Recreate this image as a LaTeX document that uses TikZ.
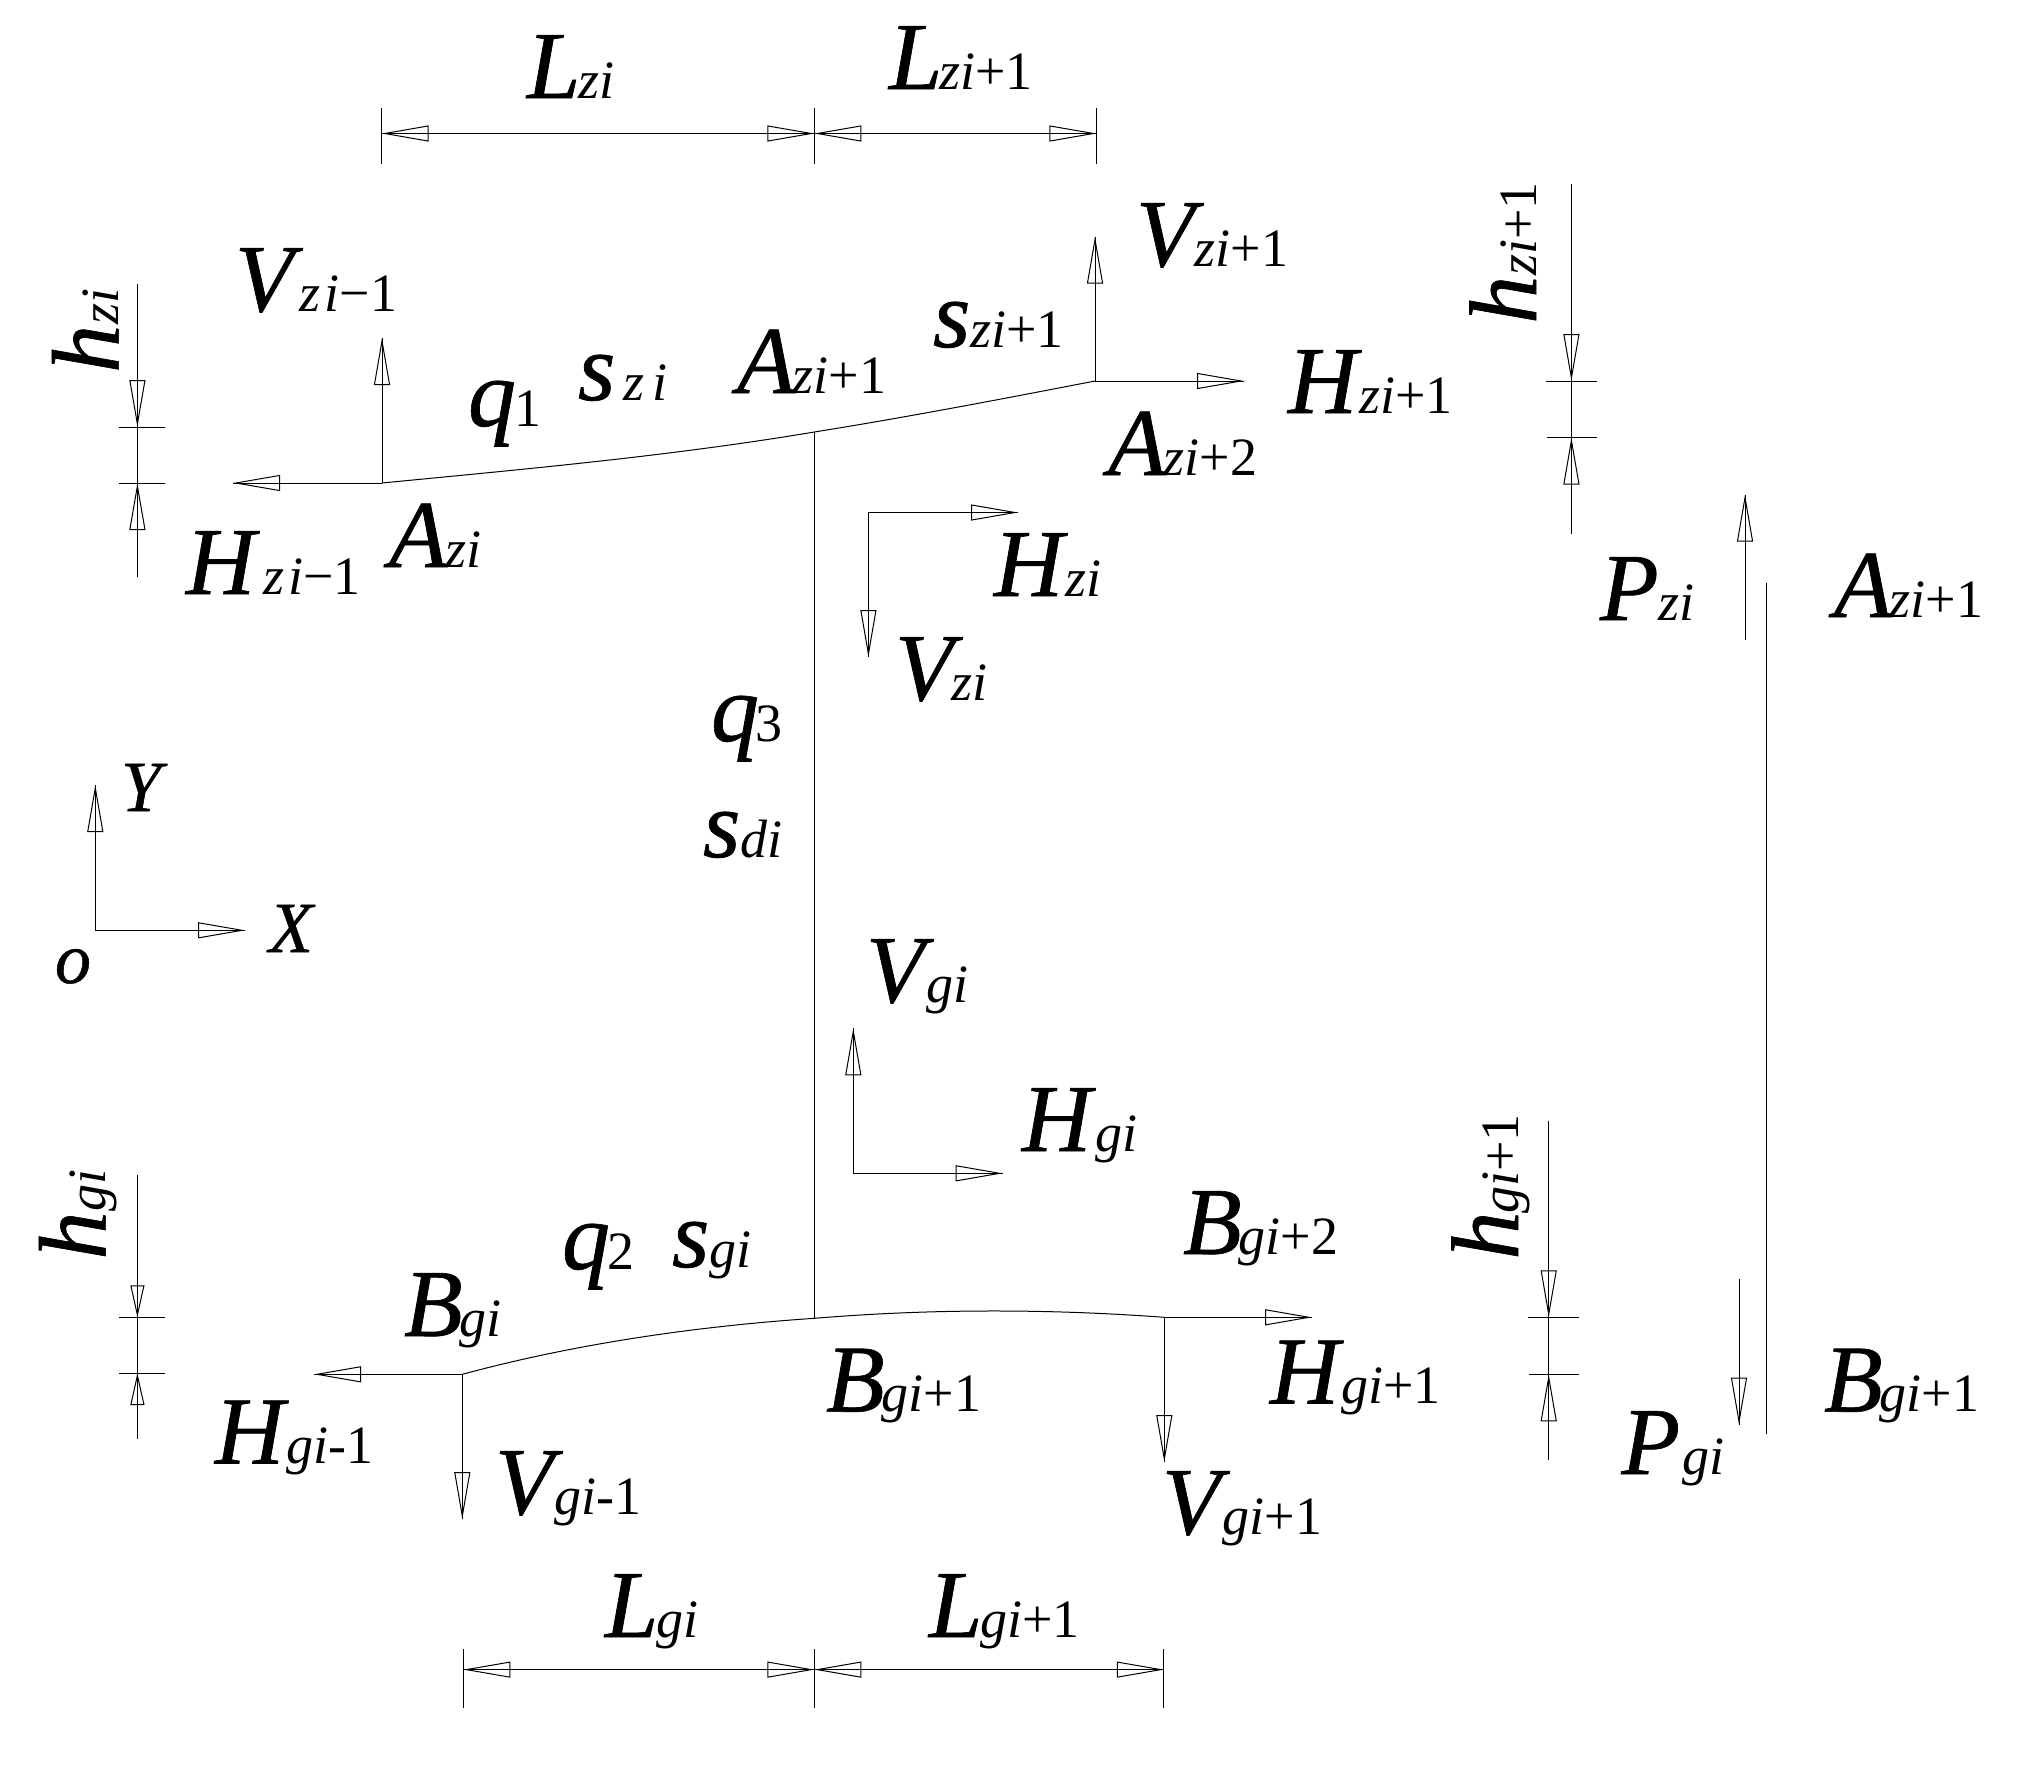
\documentclass[tikz,border=0pt]{standalone}
\usepackage{fontspec}
\usetikzlibrary{arrows.meta}
\setmainfont{Liberation Serif}
\newfontfamily\capfont[FakeBold=0.7]{Liberation Serif}
\newcommand{\lab}[4][0pt]{{\capfont\fontsize{48}{48}\selectfont\itshape #2}\kern#1\fontsize{27}{27}\selectfont\itshape #3\upshape #4}
\newcommand{\axlab}[1]{{\capfont\fontsize{36}{36}\selectfont\itshape #1}}
\tikzset{
  every node/.append style={inner sep=0pt,outer sep=0pt,anchor=base west},
  every path/.append style={line width=0.5pt},
  uplab/.style={rotate=90},
  force/.style={-{Triangle[open,length=23.5pt,width=8pt]},preaction={draw,-}},
  forceshort/.style={-{Triangle[open,length=16pt,width=7pt]},preaction={draw,-}}
}
\begin{document}
\begin{tikzpicture}[x=0.5pt,y=-0.5pt]
  \useasboundingbox (0,0) rectangle (2032,1772);
  % top member
  \coordinate (Azi) at (382,483);
  \coordinate (Azj) at (814.3,432);
  \coordinate (Azk) at (1095,381);
  \coordinate (VzaEnd) at (382,338);
  \coordinate (HzaEnd) at (233,483);
  \coordinate (VzkEnd) at (1095,236.6);
  \coordinate (HzkEnd) at (1244,381);
  \draw (Azi) .. controls (526,469) and (671,456) .. (Azj)
              .. controls (908,417) and (1002,399) .. (Azk);
  \draw[force] (Azi) -- (VzaEnd);
  \draw[force] (Azi) -- (HzaEnd);
  \draw[force] (Azk) -- (VzkEnd);
  \draw[force] (Azk) -- (HzkEnd);
  % bottom member
  \coordinate (Bgi) at (462.3,1374.3);
  \coordinate (Bgj) at (814.3,1318.3);
  \coordinate (Bgk) at (1164.3,1317.3);
  \coordinate (VgaEnd) at (462.3,1519);
  \coordinate (HgaEnd) at (314,1374.3);
  \coordinate (VgkEnd) at (1164.3,1462);
  \coordinate (HgkEnd) at (1312,1317.3);
  \draw (Bgi) .. controls (578,1343) and (700,1326) .. (Bgj)
              .. controls (930,1308.7) and (1048,1308.7) .. (Bgk);
  \draw[force] (Bgi) -- (VgaEnd);
  \draw[force] (Bgi) -- (HgaEnd);
  \draw[force] (Bgk) -- (VgkEnd);
  \draw[force] (Bgk) -- (HgkEnd);
  \draw (Azj) -- (Bgj);
  % inner forces on the column
  \coordinate (Cz) at (868.4,512.5);
  \coordinate (CzH) at (1018,512.5);
  \coordinate (CzV) at (868.4,657);
  \coordinate (Cg) at (853.3,1173.3);
  \coordinate (CgH) at (1002.7,1173.3);
  \coordinate (CgV) at (853.3,1028.3);
  \draw[force] (Cz) -- (CzH);
  \draw[force] (Cz) -- (CzV);
  \draw[force] (Cg) -- (CgH);
  \draw[force] (Cg) -- (CgV);
  % axes
  \coordinate (O) at (95.3,930.3);
  \coordinate (OY) at (95.3,785);
  \coordinate (OX) at (245,930.3);
  \draw[force] (O) -- (OY);
  \draw[force] (O) -- (OX);
  % right column
  \coordinate (PzStart) at (1745,640);
  \coordinate (PzEnd) at (1745,494.6);
  \coordinate (PgStart) at (1739,1279);
  \coordinate (PgEnd) at (1739,1424.5);
  \coordinate (RcTop) at (1766,582.6);
  \coordinate (RcBot) at (1766,1434);
  \draw[force] (PzStart) -- (PzEnd);
  \draw[force] (PgStart) -- (PgEnd);
  \draw (RcTop) -- (RcBot);
  % top dimension
  \coordinate (TdA) at (381.7,133.5);
  \coordinate (TdB) at (814.3,133.5);
  \coordinate (TdC) at (1096.4,133.5);
  \draw[force] (TdB) -- (TdA);
  \draw[force] (TdA) -- (TdB);
  \draw[force] (TdC) -- (TdB);
  \draw[force] (TdB) -- (TdC);
  \draw (381.7,108) -- (381.7,163.5);
  \draw (814.3,108) -- (814.3,163.5);
  \draw (1096.4,108) -- (1096.4,163.5);
  % bottom dimension
  \coordinate (BdA) at (463.4,1669.6);
  \coordinate (BdB) at (814.3,1669.6);
  \coordinate (BdC) at (1163.8,1669.6);
  \draw[force] (BdB) -- (BdA);
  \draw[force] (BdA) -- (BdB);
  \draw[force] (BdC) -- (BdB);
  \draw[force] (BdB) -- (BdC);
  \draw (463.4,1649) -- (463.4,1708);
  \draw (814.3,1649) -- (814.3,1708);
  \draw (1163.8,1649) -- (1163.8,1708);
  % level marks
  \coordinate (HzTop) at (137.4,284);
  \coordinate (HzA) at (137.4,427);
  \coordinate (HzB) at (137.4,483);
  \coordinate (HzBot) at (137.4,577);
  \draw[force] (HzTop) -- (HzA);
  \draw[force] (HzBot) -- (HzB);
  \draw (HzA) -- (HzB);
  \draw (118.6,427) -- (165,427);
  \draw (119,483) -- (165,483);
  \coordinate (HyTop) at (1571.4,184);
  \coordinate (HyA) at (1571.4,381);
  \coordinate (HyB) at (1571.4,437.5);
  \coordinate (HyBot) at (1571.4,534);
  \draw[force] (HyTop) -- (HyA);
  \draw[force] (HyBot) -- (HyB);
  \draw (HyA) -- (HyB);
  \draw (1546,381) -- (1597,381);
  \draw (1547,437.5) -- (1597,437.5);
  \coordinate (HgTop) at (137.4,1175);
  \coordinate (HgA) at (137.4,1317.3);
  \coordinate (HgB) at (137.4,1373);
  \coordinate (HgBot) at (137.4,1438.6);
  \draw[forceshort] (HgTop) -- (HgA);
  \draw[forceshort] (HgBot) -- (HgB);
  \draw (HgA) -- (HgB);
  \draw (118.6,1317.3) -- (165,1317.3);
  \draw (119,1373) -- (165,1373);
  \coordinate (HhTop) at (1548.7,1120.6);
  \coordinate (HhA) at (1548.7,1317.3);
  \coordinate (HhB) at (1548.7,1374.3);
  \coordinate (HhBot) at (1548.7,1460);
  \draw[force] (HhTop) -- (HhA);
  \draw[force] (HhBot) -- (HhB);
  \draw (HhA) -- (HhB);
  \draw (1528,1317.3) -- (1578.5,1317.3);
  \draw (1529,1374.3) -- (1578.5,1374.3);
  % labels, upper half
  \node (Lzi) at (527,98) {\lab[-1pt]{L}{zi}{}};
  \node (Lzj) at (889,89) {\lab[-1.5pt]{L}{zi}{+1}};
  \node (Vza) at (235,311) {\lab[3pt]{V}{z\kern2pt i}{−1}};
  \node (Vzk) at (1136,266) {\lab{V}{zi}{+1}};
  \node (szi) at (578,400) {\lab[4pt]{s}{z\kern4pt i}{}};
  \node (szj) at (933,347) {\lab{s}{zi}{+1}};
  \node (qa) at (468,426) {\lab[-1pt]{q}{}{1}};
  \node (qc) at (711,741) {\lab[-2pt]{q}{}{3}};
  \node (sdi) at (703,857) {\lab{s}{di}{}};
  \node (Azj) at (737,393) {\lab[-1.5pt]{A}{zi}{+1}};
  \node (Azi) at (389,567) {\lab[-1pt]{A}{zi}{}};
  \node (Azk) at (1108,475) {\lab[-1.5pt]{A}{zi}{+2}};
  \node (Azr) at (1834,617) {\lab[-1.5pt]{A}{zi}{+1}};
  \node (Hza) at (186,594) {\lab[4pt]{H}{z\kern2pt i}{−1}};
  \node (Hzk) at (1288,413) {\lab[1pt]{H}{zi}{+1}};
  \node (Hzi) at (994,596) {\lab[1pt]{H}{zi}{}};
  \node (Vzi) at (895,700) {\lab[-1pt]{V}{zi}{}};
  \node (Pzi) at (1600,620) {\lab{P}{zi}{}};
  \node (Ylab) at (121,811) {\axlab{Y}};
  \node (Xlab) at (269,952) {\axlab{X}};
  \node (olab) at (55,983) {\axlab{o}};
  % labels, lower half
  \node (Vgi) at (866,1002) {\lab[1pt]{V}{gi}{}};
  \node (Hgi) at (1022,1151) {\lab[2pt]{H}{gi}{}};
  \node (qb) at (562,1269) {\lab[-1.5pt]{q}{}{2}};
  \node (sgi) at (672,1267) {\lab{s}{gi}{}};
  \node (Bgi) at (404,1336) {\lab[-1.5pt]{B}{gi}{}};
  \node (Bgk) at (1183,1254) {\lab[-1.5pt]{B}{gi}{+2}};
  \node (Bgj) at (826,1411.6) {\lab[-1.5pt]{B}{gi}{+1}};
  \node (Bgr) at (1824,1411.6) {\lab[-1.5pt]{B}{gi}{+1}};
  \node (Hga) at (215,1463.5) {\lab[1pt]{H}{gi}{-1}};
  \node (Hgk) at (1270,1403.5) {\lab[1pt]{H}{gi}{+1}};
  \node (Vga) at (495,1514) {\lab[0.5pt]{V}{gi}{-1}};
  \node (Vgk) at (1162,1534) {\lab[1pt]{V}{gi}{+1}};
  \node (Pgi) at (1621.5,1474) {\lab[1pt]{P}{gi}{}};
  \node (Lgi) at (605,1637) {\lab[-1pt]{L}{gi}{}};
  \node (Lgj) at (929,1637) {\lab[-1pt]{L}{gi}{+1}};
  % rotated labels
  \node (hzi) [uplab] at (118.6,372.8) {\lab{h}{zi}{}};
  \node (hzj) [uplab] at (1536,323.7) {\lab{h}{zi}{+1}};
  \node (hgi) [uplab] at (105.6,1259.5) {\lab{h}{gi}{}};
  \node (hgj) [uplab] at (1518,1259.5) {\lab[-1pt]{h}{gi}{+1}};
\end{tikzpicture}
\end{document}
